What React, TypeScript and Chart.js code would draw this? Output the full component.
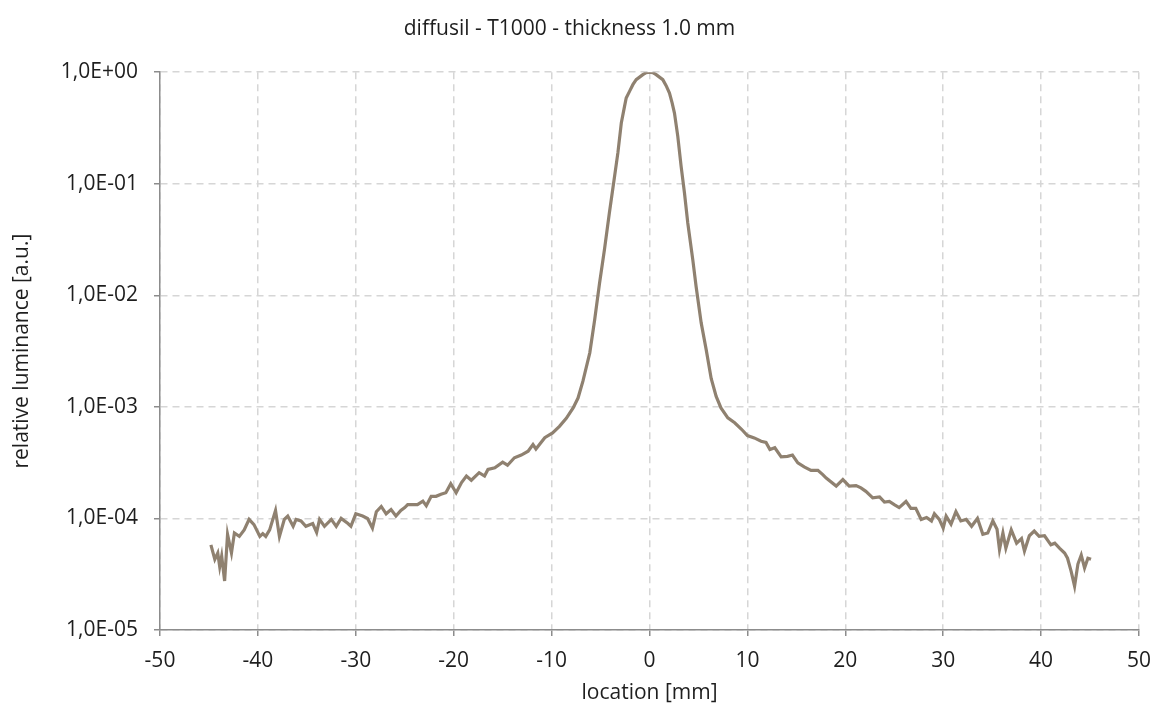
import React, { useEffect, useRef } from "react";
import { Chart, registerables } from "chart.js";

Chart.register(...registerables);

const chartTitle = "diffusil - T1000 - thickness 1.0 mm";
const xAxisTitle = "location [mm]";
const yAxisTitle = "relative luminance [a.u.]";

const yTickValues = [1e-5, 1e-4, 1e-3, 1e-2, 1e-1, 1];
const yTickLabels = ["1,0E-05", "1,0E-04", "1,0E-03", "1,0E-02", "1,0E-01", "1,0E+00"];

const locationMm = [
  -44.8, -44.4, -44.1, -43.9, -43.7, -43.4, -43.1, -42.7, -42.4, -41.9,
  -41.4, -40.9, -40.4, -39.8, -39.5, -39.2, -38.8, -38.2, -37.8, -37.3,
  -36.95, -36.4, -36.1, -35.6, -35.1, -34.4, -34.0, -33.7, -33.2, -32.5,
  -32.0, -31.5, -30.8, -30.5, -30.0, -29.3, -28.8, -28.3, -27.9, -27.4,
  -26.9, -26.4, -25.9, -25.4, -25.0, -24.7, -24.3, -23.7, -23.15, -22.8,
  -22.3, -21.8, -21.3, -20.8, -20.3, -19.75, -19.2, -18.7, -18.2, -17.4,
  -16.85, -16.5, -15.8, -15.0, -14.5, -13.8, -13.1, -12.4, -11.9, -11.6,
  -10.7, -9.9, -9.2, -8.5, -7.8, -7.3, -6.8, -6.1, -5.6, -5.1,
  -4.6, -4.1, -3.57, -3.23, -2.88, -2.55, -2.38, -2.04, -1.7, -1.36, -0.68, -0.34,
  0, 0.34, 0.68, 1.36, 1.7, 2.04, 2.31, 2.55, 2.89, 3.23, 3.57, 3.91,
  4.42, 4.76, 5.28, 5.79, 6.3, 6.81, 7.3, 8.0, 8.7, 9.4,
  10.0, 10.7, 11.4, 11.9, 12.3, 12.8, 13.45, 14.1, 14.6, 15.15,
  15.8, 16.5, 17.2, 17.7, 18.05, 19.07, 19.75, 20.4, 21.1, 21.6,
  22.1, 22.8, 23.5, 24.0, 24.5, 25.0, 25.5, 26.2, 26.7, 27.2,
  27.75, 28.3, 28.8, 29.1, 29.6, 30.0, 30.3, 30.8, 31.3, 31.8,
  32.35, 32.9, 33.5, 34.05, 34.55, 35.07, 35.5, 35.75, 36.1, 36.4,
  36.95, 37.5, 38.0, 38.3, 38.8, 39.3, 39.8, 40.35, 41.0, 41.4,
  41.9, 42.4, 42.7, 43.07, 43.42, 43.76, 44.1, 44.44, 44.78, 45.1,
];

const relativeLuminance = [
  5.8e-5, 4.3e-5, 4.9e-5, 3.7e-5, 4.6e-5, 2.75e-5, 7.2e-5, 4.9e-5, 7.4e-5, 6.9e-5,
  7.9e-5, 9.8e-5, 8.8e-5, 6.9e-5, 7.3e-5, 6.9e-5, 7.9e-5, 1.18e-4, 6.9e-5, 9.8e-5,
  1.05e-4, 8.5e-5, 9.8e-5, 9.5e-5, 8.5e-5, 9.0e-5, 7.5e-5, 9.8e-5, 8.5e-5, 9.8e-5,
  8.5e-5, 1.0e-4, 9.0e-5, 8.5e-5, 1.1e-4, 1.05e-4, 1.0e-4, 8.2e-5, 1.15e-4, 1.28e-4,
  1.1e-4, 1.2e-4, 1.05e-4, 1.18e-4, 1.25e-4, 1.33e-4, 1.33e-4, 1.33e-4, 1.43e-4, 1.3e-4,
  1.58e-4, 1.58e-4, 1.65e-4, 1.7e-4, 2.05e-4, 1.7e-4, 2.1e-4, 2.4e-4, 2.2e-4, 2.57e-4,
  2.4e-4, 2.75e-4, 2.85e-4, 3.2e-4, 3.0e-4, 3.5e-4, 3.7e-4, 4.0e-4, 4.6e-4, 4.2e-4,
  5.3e-4, 5.85e-4, 6.7e-4, 7.9e-4, 9.8e-4, 1.2e-3, 1.7e-3, 3.05e-3, 6.05e-3, 1.29e-2,
  2.57e-2, 5.47e-2, 0.116, 0.189, 0.35, 0.494, 0.587, 0.673, 0.773, 0.857, 0.95, 0.99,
  1.0, 0.99, 0.95, 0.857, 0.757, 0.65, 0.53, 0.43, 0.266, 0.143, 0.083, 0.0445,
  0.0209, 0.012, 5.66e-3, 3.26e-3, 1.8e-3, 1.24e-3, 9.8e-4, 7.97e-4, 7.2e-4, 6.3e-4,
  5.53e-4, 5.27e-4, 4.92e-4, 4.8e-4, 4.14e-4, 4.3e-4, 3.56e-4, 3.6e-4, 3.7e-4, 3.15e-4,
  2.9e-4, 2.7e-4, 2.7e-4, 2.47e-4, 2.3e-4, 1.95e-4, 2.23e-4, 1.95e-4, 1.97e-4, 1.88e-4,
  1.75e-4, 1.53e-4, 1.56e-4, 1.4e-4, 1.42e-4, 1.33e-4, 1.25e-4, 1.42e-4, 1.23e-4, 1.23e-4,
  9.8e-5, 1.02e-4, 9.5e-5, 1.1e-4, 9.8e-5, 8.2e-5, 1.05e-4, 8.9e-5, 1.15e-4, 9.5e-5,
  9.8e-5, 8.5e-5, 1.0e-4, 7.2e-5, 7.4e-5, 9.5e-5, 8.0e-5, 5.25e-5, 7.4e-5, 5.4e-5,
  7.9e-5, 6.0e-5, 6.6e-5, 5.1e-5, 7.0e-5, 7.7e-5, 6.9e-5, 7.0e-5, 5.8e-5, 6.0e-5,
  5.4e-5, 4.9e-5, 4.4e-5, 3.36e-5, 2.47e-5, 3.9e-5, 4.7e-5, 3.6e-5, 4.4e-5, 4.3e-5,
];

const FONT = "'Open Sans', 'Noto Sans', sans-serif";
const FONT_SIZE = 21;
const TEXT = "#1e1e1e";
const GRID = "#d6d6d6";
const AXIS = "#8c8c8c";
const LINE = "rgb(143,129,112)";

export default function App() {
  const ref = useRef<HTMLCanvasElement | null>(null);

  useEffect(() => {
    if (!ref.current) return;
    const points = locationMm.map((x, i) => ({ x, y: relativeLuminance[i] }));
    const chart = new Chart(ref.current, {
      type: "line",
      data: {
        datasets: [
          {
            data: points,
            borderColor: LINE,
            borderWidth: 3.2,
            pointRadius: 0,
            tension: 0,
            fill: false,
          },
        ],
      },
      options: {
        responsive: false,
        animation: false,
        layout: { padding: { left: 0, right: 22, top: 0, bottom: 0 } },
        plugins: {
          legend: { display: false },
          tooltip: { enabled: false },
          title: {
            display: true,
            text: chartTitle,
            color: TEXT,
            font: { family: FONT, size: FONT_SIZE, weight: "normal" },
            padding: { top: 16, bottom: 31 },
          },
        },
        scales: {
          x: {
            type: "linear",
            min: -50,
            max: 50,
            afterFit: (s: any) => {
              s.height = 84;
              s.paddingRight = 0;
              s.paddingLeft = 0;
            },
            ticks: {
              stepSize: 10,
              color: TEXT,
              font: { family: FONT, size: FONT_SIZE },
              padding: 12,
              maxRotation: 0,
            },
            grid: {
              color: GRID,
              lineWidth: 1.5,
              tickColor: AXIS,
              tickLength: 6,
              tickWidth: 1.5,
              tickBorderDash: [],
            },
            border: { display: true, color: AXIS, width: 1.5, dash: [7, 5] },
            title: {
              display: true,
              text: xAxisTitle,
              color: TEXT,
              font: { family: FONT, size: FONT_SIZE },
              padding: { top: 0, bottom: 8 },
            },
          },
          y: {
            type: "logarithmic",
            min: 1e-5,
            max: 1,
            afterFit: (s: any) => {
              s.width = 160;
            },
            afterBuildTicks: (s: any) => {
              s.ticks = yTickValues.map((v) => ({ value: v }));
            },
            ticks: {
              color: TEXT,
              font: { family: FONT, size: FONT_SIZE },
              padding: 16,
              callback: (_v: any, i: number) => yTickLabels[i],
            },
            grid: {
              color: GRID,
              lineWidth: 1.5,
              tickColor: AXIS,
              tickLength: 6,
              tickWidth: 1.5,
              tickBorderDash: [],
            },
            border: { display: true, color: AXIS, width: 1.5, dash: [7, 5] },
            title: {
              display: true,
              text: yAxisTitle,
              color: TEXT,
              font: { family: FONT, size: FONT_SIZE },
              padding: { top: 9, bottom: 0 },
            },
          },
        },
      },
    });
    return () => chart.destroy();
  }, []);

  return (
    <div style={{ position: "fixed", left: 0, top: 0, width: 1161, height: 714, background: "#fff" }}>
      <canvas ref={ref} width={1161} height={714} />
    </div>
  );
}
